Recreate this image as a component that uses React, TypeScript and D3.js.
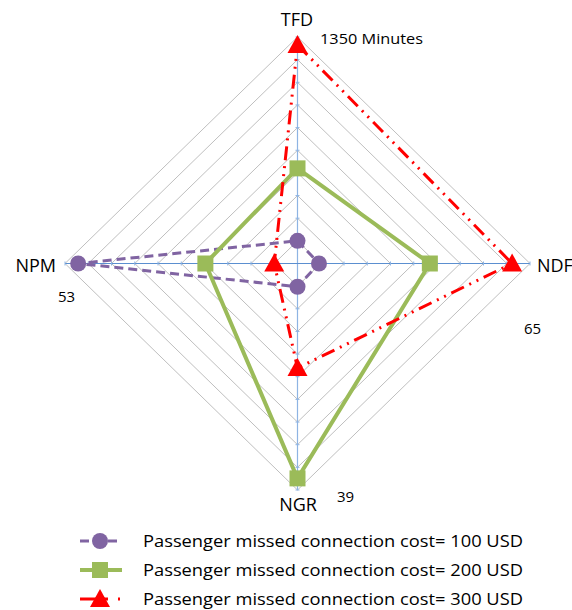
import React from "react";
import * as d3 from "d3";

const axes = ["TFD", "NDF", "NGR", "NPM"];
const axisMax = [1350, 65, 39, 53];
const axisMaxLabels = ["1350 Minutes", "65", "39", "53"];
const seriesNames = [
  "Passenger missed connection cost= 100 USD",
  "Passenger missed connection cost= 200 USD",
  "Passenger missed connection cost= 300 USD",
];
const cost100 = [135, 6, 4, 50];
const cost200 = [567, 37, 37, 21];
const cost300 = [1303, 60, 18, 5.3];
const ringCount = 10;

const W = 572;
const H = 610;
const cx = 297.5;
const cy = 263.5;
const rx = 232.5;
const ry = 226.5;
const FONT = "'Open Sans', Lato, 'Liberation Sans', sans-serif";

const colors = ["#8064A2", "#9BBB59", "#FF0000"];
const dashes = ["9,5", "none", "14,6,2,6,2,6"];
const widths = [3, 4, 3];

function pointFor(axisIdx: number, frac: number): [number, number] {
  const ang = (axisIdx * Math.PI) / 2; // 0 = up, clockwise
  return [cx + Math.sin(ang) * rx * frac, cy - Math.cos(ang) * ry * frac];
}

function Marker({ kind, x, y }: { kind: number; x: number; y: number }) {
  if (kind === 0) return <circle cx={x} cy={y} r={8} fill={colors[0]} />;
  if (kind === 1)
    return <rect x={x - 8} y={y - 8} width={16} height={16} fill={colors[1]} />;
  return (
    <path
      d={`M${x},${y - 10} L${x + 10},${y + 8} L${x - 10},${y + 8} Z`}
      fill={colors[2]}
    />
  );
}

export default function App() {
  const scales = axisMax.map((m) => d3.scaleLinear().domain([0, m]).range([0, 1]));
  const series = [cost100, cost200, cost300];
  const rings = d3.range(1, ringCount + 1).map((i) => i / ringCount);
  const line = d3.line<[number, number]>().curve(d3.curveLinearClosed);

  const legendY = [541, 570, 599];

  return (
    <svg
      width={W}
      height={H}
      style={{ position: "absolute", left: 0, top: 0, background: "#fff" }}
    >
      <rect width={W} height={H} fill="#fff" />
      {rings.map((f, i) => (
        <path
          key={i}
          d={line(axes.map((_, a) => pointFor(a, f)))!}
          fill="none"
          stroke="#BFBFBF"
          strokeWidth={1}
        />
      ))}
      {/* axes */}
      <line x1={cx} y1={cy - ry} x2={cx} y2={cy + ry} stroke="#8EB4E3" strokeWidth={1.2} />
      <line x1={cx - rx} y1={cy} x2={cx + rx} y2={cy} stroke="#5B8FD0" strokeWidth={1.2} />
      {rings.map((f, i) => {
        const [, yt] = pointFor(0, f);
        const [, yb] = pointFor(2, f);
        const [xr] = pointFor(1, f);
        const [xl] = pointFor(3, f);
        return (
          <g key={"t" + i} stroke="#8EB4E3" strokeWidth={1}>
            <line x1={cx - 2} x2={cx + 2} y1={yt} y2={yt} />
            <line x1={cx - 2} x2={cx + 2} y1={yb} y2={yb} />
            <line x1={xr} x2={xr} y1={cy - 2} y2={cy + 2} />
            <line x1={xl} x2={xl} y1={cy - 2} y2={cy + 2} />
          </g>
        );
      })}
      {/* series */}
      {series.map((vals, s) => {
        const pts = vals.map((v, a) => pointFor(a, scales[a](v)));
        return (
          <g key={s}>
            <path
              d={line(pts)!}
              fill="none"
              stroke={colors[s]}
              strokeWidth={widths[s]}
              strokeDasharray={dashes[s]}
            />
            {pts.map((p, i) => (
              <Marker key={i} kind={s} x={p[0]} y={p[1]} />
            ))}
          </g>
        );
      })}
      {/* axis labels */}
      <g fontFamily={FONT} fill="#000">
        <text x={297} y={26} fontSize={18} textAnchor="middle">{axes[0]}</text>
        <text x={537} y={272} fontSize={18}>{axes[1]}</text>
        <text x={298} y={511} fontSize={18} textAnchor="middle">{axes[2]}</text>
        <text x={56} y={272} fontSize={18} textAnchor="end">{axes[3]}</text>
        <text x={320} y={44} fontSize={15} textLength={103} lengthAdjust="spacingAndGlyphs">{axisMaxLabels[0]}</text>
        <text x={524} y={334} fontSize={15}>{axisMaxLabels[1]}</text>
        <text x={337} y={502} fontSize={15}>{axisMaxLabels[2]}</text>
        <text x={58} y={302} fontSize={15}>{axisMaxLabels[3]}</text>
      </g>
      {/* legend */}
      {seriesNames.map((name, s) => {
        const y = legendY[s];
        return (
          <g key={"l" + s}>
            <line
              x1={80}
              x2={122}
              y1={y}
              y2={y}
              stroke={colors[s]}
              strokeWidth={widths[s]}
              strokeDasharray={s === 0 ? "9,5" : s === 2 ? "28,10,2,10" : "none"}
            />
            <Marker kind={s} x={100} y={y} />
            <text
              x={143}
              y={y + 6}
              fontFamily={FONT}
              fontSize={17}
              fill="#000"
              textLength={380}
              lengthAdjust="spacingAndGlyphs"
            >
              {name}
            </text>
          </g>
        );
      })}
    </svg>
  );
}
